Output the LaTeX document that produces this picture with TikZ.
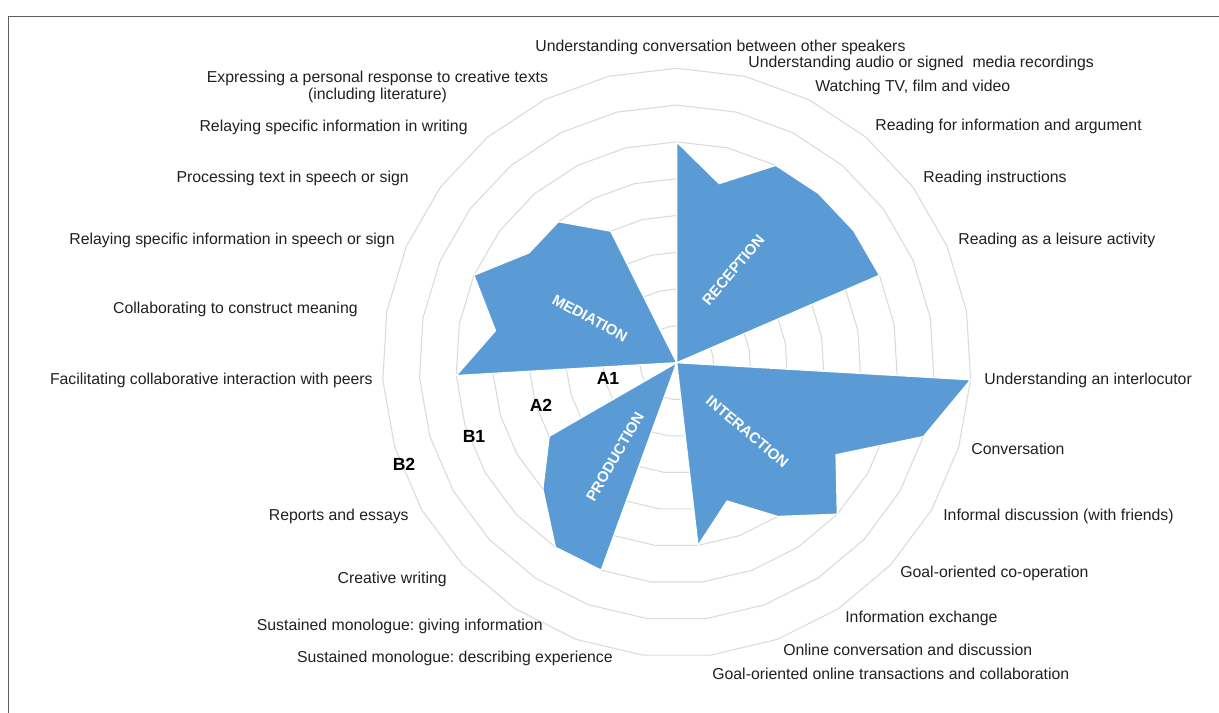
\documentclass[tikz,border=0pt]{standalone}
\usepackage{fontspec}
\setmainfont{Liberation Sans}
\usetikzlibrary{positioning}
\definecolor{wedgeblue}{RGB}{91,155,213}
\definecolor{ringgray}{RGB}{218,218,218}
\definecolor{framegray}{RGB}{95,95,95}
\definecolor{textgray}{RGB}{35,31,32}
\newcommand{\ringstep}{0.736}
\frenchspacing
\tikzset{
	ringline/.style={draw=ringgray, line width=0.6pt},
	wedge/.style={fill=wedgeblue, draw=white, line width=0.7pt, line join=round},
	rightlabel/.style={anchor=west, inner sep=0pt, text=textgray, font=\fontsize{9}{9.5}\selectfont},
	leftlabel/.style={anchor=east, inner sep=0pt, text=textgray, font=\fontsize{9}{9.5}\selectfont},
	levellabel/.style={inner sep=0pt, font=\bfseries\fontsize{10}{10}\selectfont},
	arealabel/.style={inner sep=0pt, text=white, font=\bfseries\fontsize{8.5}{8.5}\selectfont}
}

\begin{document}
\begin{tikzpicture}
	\useasboundingbox (-13.534,-7.006) rectangle (10.846,7.254);
	\draw [framegray, line width=0.8pt] (-13.36,-7.006) -- (-13.36,6.92) -- (10.846,6.92);
	%
	\foreach \k in {1,...,8}
		\draw [ringline] (90:\k*\ringstep) \foreach \a in {1,...,26} { -- ({90-\a*360/27}:\k*\ringstep) } -- cycle;
	%
	\draw [wedge] (0,0) -- (90:6*\ringstep) -- (76.667:5*\ringstep) -- (63.333:6*\ringstep)
		-- (50:6*\ringstep) -- (36.667:6*\ringstep) -- (23.333:6*\ringstep) -- cycle;
	\draw [wedge] (0,0) -- (-3.333:8*\ringstep) -- (-16.667:7*\ringstep) -- (-30:5*\ringstep)
		-- (-43.333:6*\ringstep) -- (-56.667:5*\ringstep) -- (-70:4*\ringstep) -- (-83.333:5*\ringstep) -- cycle;
	\draw [wedge] (0,0) -- (-110:6*\ringstep) -- (-123.333:6*\ringstep) -- (-136.667:5*\ringstep)
		-- (-150:4*\ringstep) -- cycle;
	\draw [wedge] (0,0) -- (183.333:6*\ringstep) -- (170:5*\ringstep) -- (156.667:6*\ringstep)
		-- (143.333:5*\ringstep) -- (130:5*\ringstep) -- (116.667:4*\ringstep) -- cycle;
	%
	\node [arealabel, rotate=50] (reception) at (1.132,1.854) {RECEPTION};
	\node [arealabel, rotate=-40] (interaction) at (1.412,-1.38) {INTERACTION};
	\node [arealabel, rotate=60] (production) at (-1.234,-1.88) {PRODUCTION};
	\node [arealabel, rotate=-28.5] (mediation) at (-1.734,0.888) {MEDIATION};
	%
	\node [levellabel] (A1) at (-1.374,-0.306) {A1};
	\node [levellabel] (A2) at (-2.714,-0.846) {A2};
	\node [levellabel] (B1) at (-4.054,-1.466) {B1};
	\node [levellabel] (B2) at (-5.454,-2.026) {B2};
	%
	\node [rightlabel] (otherspeakers) at (-2.834,6.314) {Understanding conversation between other speakers};
	\node [rightlabel] (recordings) at (1.426,5.994) {Understanding audio or signed\ \ media recordings};
	\node [rightlabel] (watching) at (2.766,5.514) {Watching TV, film and video};
	\node [rightlabel] (readinfo) at (3.966,4.734) {Reading for information and argument};
	\node [rightlabel] (readinstr) at (4.926,3.694) {Reading instructions};
	\node [rightlabel] (readleisure) at (5.626,2.454) {Reading as a leisure activity};
	\node [rightlabel] (interlocutor) at (6.146,-0.346) {Understanding an interlocutor};
	\node [rightlabel] (conversation) at (5.886,-1.726) {Conversation};
	\node [rightlabel] (informal) at (5.326,-3.066) {Informal discussion (with friends)};
	\node [rightlabel] (cooperation) at (4.466,-4.206) {Goal-oriented co-operation};
	\node [rightlabel] (infoexchange) at (3.366,-5.106) {Information exchange};
	\node [rightlabel] (onlineconv) at (2.126,-5.746) {Online conversation and discussion};
	\node [rightlabel] (onlinegoal) at (0.706,-6.226) {Goal-oriented online transactions and collaboration};
	%
	\node [leftlabel] (monoexperience) at (-1.274,-5.906) {Sustained monologue: describing experience};
	\node [leftlabel] (monoinfo) at (-2.674,-5.266) {Sustained monologue: giving information};
	\node [leftlabel] (creative) at (-4.594,-4.326) {Creative writing};
	\node [leftlabel] (reports) at (-5.354,-3.066) {Reports and essays};
	\node [leftlabel] (facilitating) at (-6.074,-0.346) {Facilitating collaborative interaction with peers};
	\node [leftlabel] (collaborating) at (-6.374,1.074) {Collaborating to construct meaning};
	\node [leftlabel] (relayspeech) at (-5.634,2.454) {Relaying specific information in speech or sign};
	\node [leftlabel] (processing) at (-5.354,3.694) {Processing text in speech or sign};
	\node [leftlabel] (relaywriting) at (-4.174,4.714) {Relaying specific information in writing};
	\node [leftlabel, anchor=center, align=center] (expressing) at (-5.984,5.514)
		{Expressing a personal response to creative texts\\(including literature)};
\end{tikzpicture}
\end{document}
